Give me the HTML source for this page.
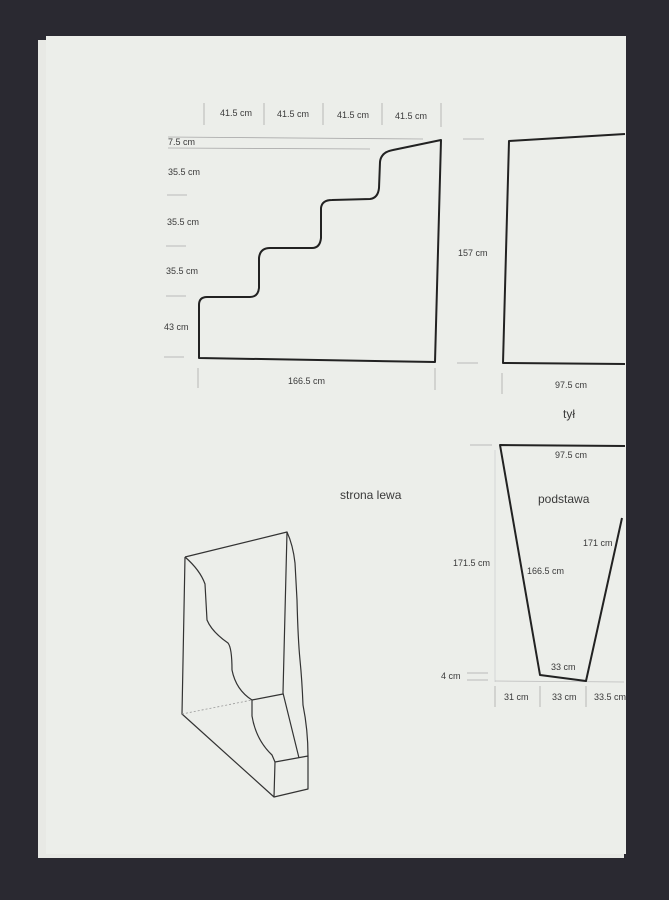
<!DOCTYPE html>
<html><head><meta charset="utf-8"><style>
html,body{margin:0;padding:0;background:#2a2930;}
svg{display:block;}
text{font-family:"Liberation Sans",sans-serif;fill:#3a3a3a;}
</style></head><body>
<svg width="669" height="900" viewBox="0 0 669 900" xmlns="http://www.w3.org/2000/svg">
<rect width="669" height="900" fill="#2a2931"/>
<rect x="38" y="40" width="586" height="818" fill="#e8e9e5"/>
<rect x="46" y="36" width="580" height="818" fill="#eceeea"/>
<g stroke="#aaa" stroke-width="0.8" fill="none">
<line x1="204" y1="103" x2="204" y2="125"/><line x1="264" y1="103" x2="264" y2="125"/>
<line x1="323" y1="103" x2="323" y2="125"/><line x1="382" y1="103" x2="382" y2="125"/>
<line x1="441" y1="103" x2="441" y2="127"/>
<line x1="168" y1="137" x2="423" y2="139"/><line x1="168" y1="148" x2="370" y2="149"/>
<line x1="167" y1="195" x2="187" y2="195"/><line x1="166" y1="246" x2="186" y2="246"/>
<line x1="166" y1="296" x2="186" y2="296"/><line x1="164" y1="357" x2="184" y2="357"/>
<line x1="198" y1="368" x2="198" y2="388"/><line x1="435" y1="368" x2="435" y2="390"/>
<line x1="463" y1="139" x2="484" y2="139"/><line x1="457" y1="363" x2="478" y2="363"/>
<line x1="502" y1="373" x2="502" y2="394"/>
<line x1="470" y1="445" x2="492" y2="445"/><line x1="467" y1="673" x2="488" y2="673"/><line x1="467" y1="680" x2="488" y2="680"/>
<line x1="495" y1="450" x2="495" y2="682" stroke="#d0d0d0"/><line x1="495" y1="681" x2="624" y2="682" stroke="#bbb"/>
<line x1="495" y1="686" x2="495" y2="707"/><line x1="540" y1="686" x2="540" y2="707"/><line x1="586" y1="686" x2="586" y2="707"/>
</g>
<g stroke="#222" stroke-width="2" fill="none" stroke-linejoin="round">
<path d="M199,358 L199,305 Q199,297 207,297 L250,297 Q258,297 259,288 L259,258 Q260,248 270,248 L312,248 Q320,248 321,238 L321,208 Q322,200 332,200 L370,199 Q378,198 379,188 L380,162 Q381,152 393,150 L441,140 L435,362 Z"/>
<path d="M625,134 L509,141 L503,363 L625,364"/>
<path d="M625,446 L500,445 L540,675 L586,681 L622,518"/>
</g>
<g stroke="#333" stroke-width="1.2" fill="none" stroke-linejoin="round">
<path d="M185,557 L287,532 L283,693 L299,758"/>
<path d="M185,557 L182,714 L274,797 L308,789 L308,756 L275,762 L274,797"/>
<path d="M185,557 Q200,570 205,584 L207,620 Q212,632 228,643 Q232,648 232,670 Q236,690 252,700 L252,716 Q256,740 272,755 L275,762"/>
<path d="M252,700 L283,694"/>
<path d="M287,532 Q293,545 295,563 L297,600 Q298,640 300,660 Q302,680 303,705 Q308,730 308,756"/>
</g>
<line x1="182" y1="714" x2="252" y2="700" stroke="#999" stroke-width="0.8" stroke-dasharray="2,2"/>
<g font-size="9">
<text x="220" y="116">41.5 cm</text><text x="277" y="117">41.5 cm</text>
<text x="337" y="118">41.5 cm</text><text x="395" y="119">41.5 cm</text>
<text x="168" y="145">7.5 cm</text>
<text x="168" y="175">35.5 cm</text><text x="167" y="225">35.5 cm</text><text x="166" y="274">35.5 cm</text>
<text x="164" y="330">43 cm</text>
<text x="288" y="384">166.5 cm</text>
<text x="458" y="256">157 cm</text>
<text x="555" y="388">97.5 cm</text>
<text x="555" y="458">97.5 cm</text>
<text x="583" y="546">171 cm</text>
<text x="527" y="574">166.5 cm</text>
<text x="453" y="566">171.5 cm</text>
<text x="551" y="670">33 cm</text>
<text x="441" y="679">4 cm</text>
<text x="504" y="700">31 cm</text><text x="552" y="700">33 cm</text><text x="594" y="700">33.5 cm</text>
</g>
<text x="563" y="418" font-size="12">tył</text>
<text x="340" y="499" font-size="12">strona lewa</text>
<text x="538" y="503" font-size="12">podstawa</text>
<rect x="626" y="0" width="43" height="900" fill="#2a2931"/>
</svg>
</body></html>
